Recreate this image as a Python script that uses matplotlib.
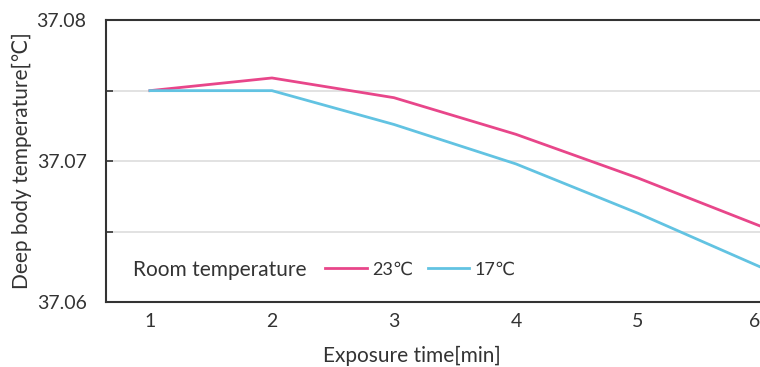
import matplotlib
matplotlib.use('Agg')
import matplotlib.pyplot as plt

# Exposure time [min]
minutes = [1, 2, 3, 4, 5, 6]
# Deep body temperature [°C] by room temperature
temp_23 = [37.0750, 37.0759, 37.0745, 37.0719, 37.0688, 37.0654]
temp_17 = [37.0750, 37.0750, 37.0726, 37.0698, 37.0663, 37.0625]

pink = '#E8468A'
cyan = '#62C3E2'

plt.rcParams['font.family'] = ['Lato', 'DejaVu Sans']

fig = plt.figure(figsize=(7.6, 3.67), dpi=100)
ax = fig.add_axes([0.1395, 0.177, 0.8605, 0.768])

ax.plot(minutes, temp_23, color=pink, lw=2, label='23℃')
ax.plot(minutes, temp_17, color=cyan, lw=2, label='17℃')

ax.set_xlim(0.64, 6.0)
ax.set_ylim(37.06, 37.08)

ax.set_yticks([37.06, 37.065, 37.07, 37.075, 37.08])
ax.set_yticklabels(['37.06', '', '37.07', '', '37.08'], fontsize=14, color='#333333')
ax.tick_params(axis='y', direction='in', length=5, width=1.2, color='#333333', pad=14)
for y in [37.065, 37.07, 37.075]:
    ax.axhline(y, color='#dddddd', lw=1.2, zorder=0)

ax.set_xticks(minutes)
ax.set_xticklabels([str(m) for m in minutes], fontsize=14, color='#333333')
ax.tick_params(axis='x', length=0, pad=8)
ax.get_xticklabels()[-1].set_ha('right')

for side in ['left', 'bottom', 'top']:
    ax.spines[side].set_color('#333333')
    ax.spines[side].set_linewidth(1.5)
ax.spines['right'].set_visible(False)

ax.set_xlabel('Exposure time[min]', fontsize=15, color='#333333')
ax.xaxis.set_label_coords(0.468, -0.155)
ax.set_ylabel('Deep body temperature[℃]', fontsize=15, color='#333333', labelpad=3)

ax.text(0.042, 0.115, 'Room temperature', transform=ax.transAxes,
        fontsize=15, color='#333333', va='center', ha='left')
ax.legend(loc='center left', bbox_to_anchor=(0.31, 0.115), ncol=2, frameon=False,
          fontsize=13, handlelength=2.3, handletextpad=0.3, columnspacing=0.8,
          labelcolor='#333333')

fig.savefig('out.png', dpi=100)
